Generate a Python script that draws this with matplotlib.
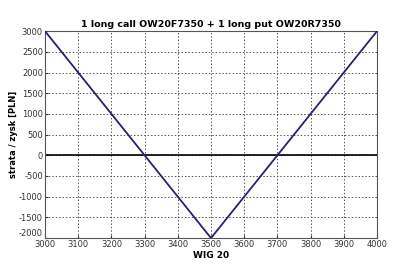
import matplotlib
matplotlib.use("Agg")
import matplotlib.pyplot as plt

plt.rcParams["axes.unicode_minus"] = False

wig20 = [3000, 3500, 4000]
profit = [3000, -2000, 3000]
xticks = [3000, 3100, 3200, 3300, 3400, 3500, 3600, 3700, 3800, 3900, 4000]
yticks = [-2000, -1500, -1000, -500, 0, 500, 1000, 1500, 2000, 2500, 3000]

fig = plt.figure(figsize=(4, 2.66), dpi=100)
ax = fig.add_axes([0.1125, 0.105, 0.83, 0.778])
ax.plot(wig20, profit, color="#23236e", lw=1.3, zorder=3)
ax.axhline(0, color="black", lw=1.2, zorder=2)
ax.set_xlim(3000, 4000)
ax.set_ylim(-2000, 3000)
ax.set_xticks(xticks)
ax.set_yticks(yticks)
ax.tick_params(labelsize=6, length=2, direction="in", pad=1.5, colors="#333333")
ax.grid(True, linestyle=(0, (1.5, 2)), color="#555555", lw=0.7)
for s in ax.spines.values():
    s.set_color("#555555")
    s.set_linewidth(0.8)
fig.canvas.draw()
ax.get_yticklabels()[0].set_verticalalignment("bottom")
ax.set_title("1 long call OW20F7350 + 1 long put OW20R7350", fontsize=6.8, fontweight="bold", pad=3)
ax.set_xlabel("WIG 20", fontsize=6.5, fontweight="bold", labelpad=1)
ax.set_ylabel("strata / zysk [PLN]", fontsize=6, fontweight="bold", labelpad=1)
fig.savefig("out.png", dpi=100)
